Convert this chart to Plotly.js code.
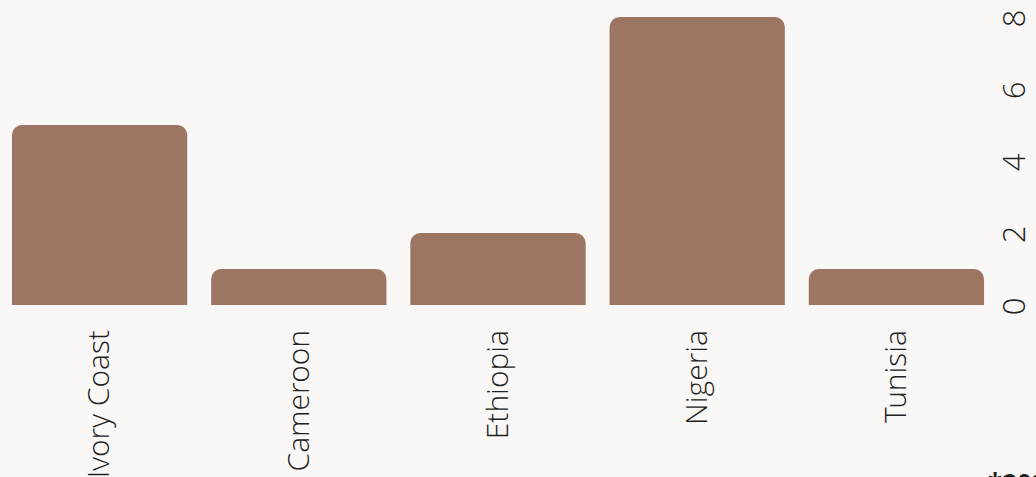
<!DOCTYPE html>
<html>
<head>
<meta charset="utf-8">
<script src="https://cdn.plot.ly/plotly-3.0.1.min.js"></script>
<style>html,body{margin:0;padding:0;background:#FAF8F6;}</style>
</head>
<body>
<div id="chart" style="width:1036px;height:477px;"></div>
<script>
const countries = ["Ivory Coast", "Cameroon", "Ethiopia", "Nigeria", "Tunisia"];
const counts = [5, 1, 2, 8, 1];
const yTicks = [0, 2, 4, 6, 8];
const note = "*2023";

const lightFont = "Open Sans Light, Open Sans";

Plotly.newPlot("chart", [{
  type: "bar",
  x: countries,
  y: counts,
  marker: {color: "#9C7563"},
  hoverinfo: "skip"
}], {
  width: 1036,
  height: 477,
  margin: {l: 0, r: 40, t: 17, b: 172, pad: 0},
  paper_bgcolor: "#FAF8F6",
  plot_bgcolor: "#FAF8F6",
  bargap: 0.12,
  barcornerradius: 10,
  font: {family: lightFont, weight: 300, color: "#222"},
  xaxis: {
    tickangle: -90,
    tickfont: {family: lightFont, weight: 300, size: 30, color: "#222"},
    ticklabelstandoff: 18,
    showgrid: false, zeroline: false, showline: false, ticks: "",
    fixedrange: true
  },
  yaxis: {
    side: "right",
    range: [0, 8],
    tickvals: yTicks,
    ticktext: yTicks.map(String),
    tickangle: -90,
    tickfont: {family: lightFont, weight: 300, size: 31, color: "#222"},
    ticklabelshift: 6,
    ticklabelstandoff: -3,
    showgrid: false, zeroline: false, showline: false, ticks: "",
    fixedrange: true
  },
  annotations: [{
    text: note,
    xref: "paper", yref: "paper",
    x: 1.0, y: 0, xshift: -10, yshift: -158,
    xanchor: "left", yanchor: "top",
    showarrow: false,
    font: {family: "Open Sans", weight: 700, size: 26, color: "#222"}
  }],
  showlegend: false
}, {displayModeBar: false, staticPlot: true});
</script>
</body>
</html>
